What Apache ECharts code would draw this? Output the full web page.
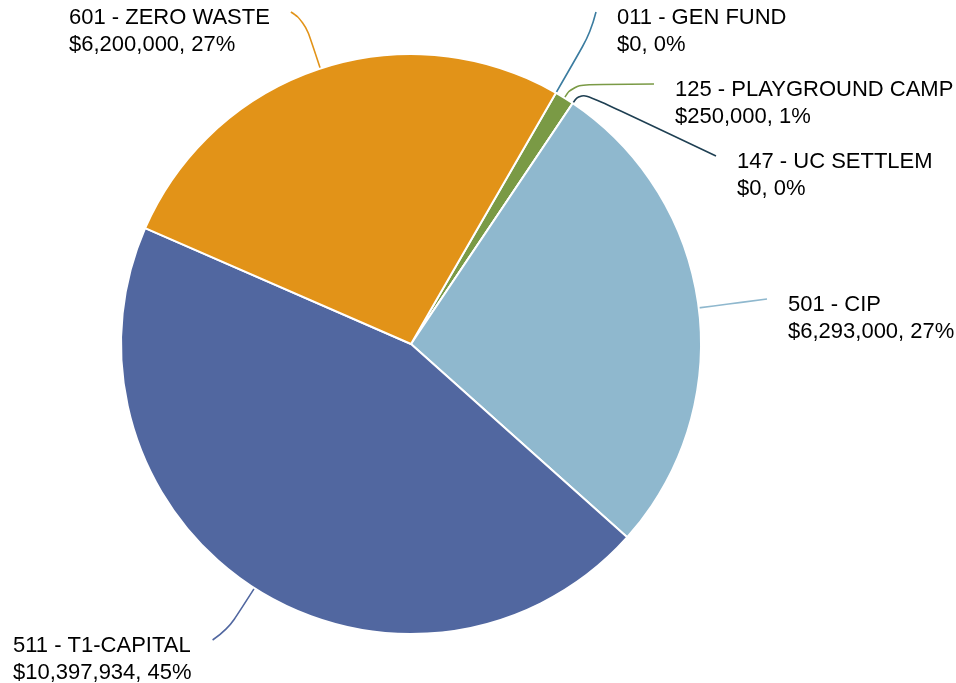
<!DOCTYPE html>
<html lang="en">
<head>
    <meta charset="UTF-8">
    <title>Fund pie</title>
    <script src="https://cdn.jsdelivr.net/npm/echarts@6/dist/echarts.min.js"></script>
</head>
<style>
    *{
        margin: 0;
        padding: 0;
    }
    html , body{
        overflow: hidden;
        height: 100%;
        width: 100%;
        background: #fff;
    }
    .contain{
        height: 683px;
        width: 956px;
    }
</style>
<body>
<div class="contain"></div>
<script>
    // funds, clockwise from the top
    let funds = ['011 - GEN FUND', '125 - PLAYGROUND CAMP', '147 - UC SETTLEM', '501 - CIP', '511 - T1-CAPITAL', '601 - ZERO WASTE'];
    let amounts = [0, 250000, 0, 6293000, 10397934, 6200000];
    let colors = ['#3b7ca0', '#7a9a45', '#1e3f52', '#8fb8ce', '#5167a0', '#e29318'];

    // where each label's text block starts (left, top)
    let labelSpots = [[617, 4], [675, 76], [737, 148], [788, 291], [13, 632], [69, 4]];
    // how far the first leg of each leader line runs out from the pie
    let legs = [70, 16, 14, 30, 50, 50];

    let cx = 411, cy = 344;
    let pie = echarts.init(document.querySelector('.contain'));

    let money = v => '$' + v.toLocaleString('en-US');

    let pieOption = {
        animation: false,
        series: [{
            type: 'pie',
            center: [cx, cy],
            radius: 290,
            startAngle: 60,
            clockwise: true,
            percentPrecision: 0,
            data: funds.map((name, i) => ({
                name,
                value: amounts[i],
                itemStyle: {color: colors[i]},
                labelLine: {lineStyle: {color: colors[i]}}
            })),
            itemStyle: {
                borderColor: '#fff',
                borderWidth: 2
            },
            label: {
                show: true,
                position: 'outside',
                color: '#000',
                fontFamily: 'Liberation Sans, Arial',
                fontSize: 22,
                lineHeight: 27,
                formatter: p => p.name + '\n' + money(p.value) + ', ' + Math.round(p.percent) + '%'
            },
            labelLine: {
                show: true,
                smooth: 0.5,
                lineStyle: {width: 1.6}
            },
            labelLayout: function (params) {
                let i = params.dataIndex;
                let [x, y] = labelSpots[i];
                let p0 = params.labelLinePoints[0];
                let dx = p0[0] - cx, dy = p0[1] - cy;
                let len = Math.sqrt(dx * dx + dy * dy) || 1;
                let mid = [p0[0] + dx / len * legs[i], p0[1] + dy / len * legs[i]];
                let endX = x > cx ? x - 21 : x + params.labelRect.width + 21;
                return {
                    x,
                    y,
                    align: 'left',
                    verticalAlign: 'top',
                    labelLinePoints: [p0, mid, [endX, y + 8]]
                };
            }
        }]
    };

    pie.setOption(pieOption);
</script>
</body>
</html>
